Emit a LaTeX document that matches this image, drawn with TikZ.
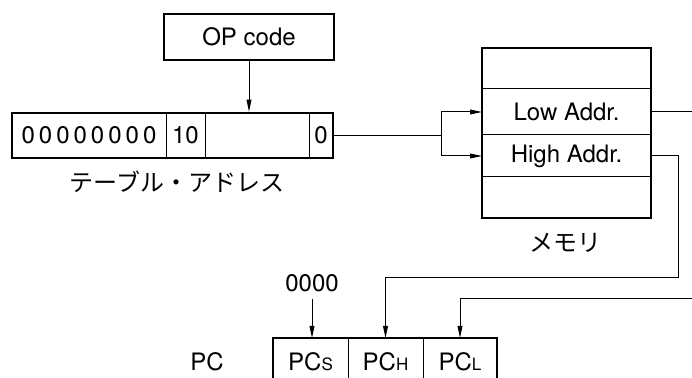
\documentclass[tikz,border=0pt]{standalone}
\usepackage{fontspec}
\setmainfont{TeX Gyre Heros}
\newfontfamily\jpfont{Noto Sans CJK JP}
\usetikzlibrary{positioning, arrows.meta, fit, calc}

\begin{document}
\begin{tikzpicture}[x=0.5pt, y=-0.5pt, >={Triangle[length=6pt,width=2.4pt]},
        font=\fontsize{12}{14}\selectfont,
        cell/.style={draw, line width=0.5pt, inner sep=0pt, outer sep=0pt, minimum height=#1},
        thickbox/.style={draw, line width=1.3pt, inner sep=0pt},
        wire/.style={line width=0.5pt}]
  \clip (0,0) rectangle (692,378);
  \node[cell=23pt, line width=1.3pt, minimum width=85pt] (op) at (249,37) {OP code};
  % table address
  \node[cell=22.5pt, minimum width=77pt, anchor=west] (zeros) at (12,135.5)
        {0\kern2pt0\kern2pt0\kern2pt0\kern2pt0\kern2pt0\kern2pt0\kern2pt0};
  \node[cell=22.5pt, minimum width=19.5pt, right=0pt of zeros] (ten) {10};
  \node[cell=22.5pt, minimum width=52pt, right=0pt of ten] (blank) {};
  \node[cell=22.5pt, minimum width=12pt, right=0pt of blank] (zero) {0};
  \node[thickbox, fit=(zeros)(zero)] (table) {};
  \node (tablelabel) at (177,182) {\jpfont テーブル・アドレス};
  \draw[wire,->] (op.south) -- (op.south |- table.north);
  % memory
  \node[cell=20.5pt, minimum width=84.5pt, anchor=north west] (m0) at (482,48) {};
  \node[cell=23pt, minimum width=84.5pt, below=0pt of m0] (low) {Low Addr.};
  \node[cell=21pt, minimum width=84.5pt, below=0pt of low] (high) {High Addr.};
  \node[cell=20.5pt, minimum width=84.5pt, below=0pt of high] (m3) {};
  \node[thickbox, fit=(m0)(m3)] (mem) {};
  \node (memlabel) at (565,243) {\jpfont メモリ};
  \coordinate (split) at ($(zero.east)+(108,0)$);
  \draw[wire] (zero.east) -- (split);
  \draw[wire,->] (split) |- (low.west);
  \draw[wire,->] (split) |- (high.west);
  % PC
  \node[cell=24pt, minimum width=37.5pt, anchor=north west] (pcs) at (273,338)
        {PC{\fontsize{8.5}{10}\selectfont S}};
  \node[cell=24pt, minimum width=37.5pt, right=0pt of pcs] (pch)
        {PC{\fontsize{8.5}{10}\selectfont H}};
  \node[cell=24pt, minimum width=37pt, right=0pt of pch] (pcl)
        {PC{\fontsize{8.5}{10}\selectfont L}};
  \node[thickbox, fit=(pcs)(pcl)] (pc) {};
  \node (pclabel) at (207,362) {PC};
  \node (zeros4) at (312,283) {0000};
  \draw[wire,->] (zeros4.south) -- (zeros4.south |- pcs.north);
  \coordinate (highturn) at (678,278);
  \coordinate (lowturn) at (720,299);
  \draw[wire,->] (high.east) -| (highturn) -| (pch.north);
  \draw[wire,->] (low.east) -| (lowturn) -| (pcl.north);
\end{tikzpicture}
\end{document}
